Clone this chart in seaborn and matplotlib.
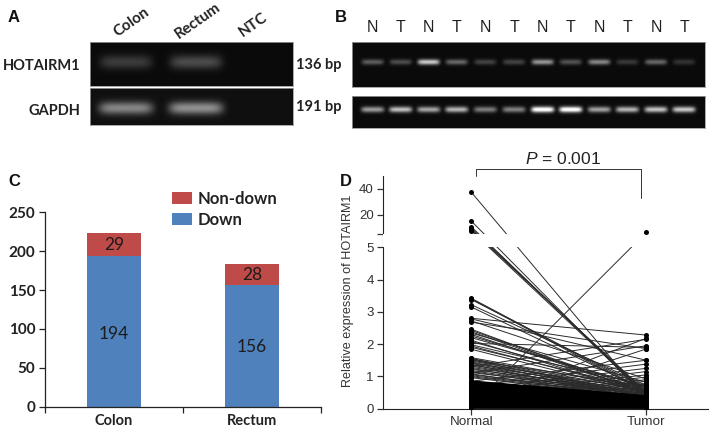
import numpy as np
import pandas as pd
import matplotlib
matplotlib.use('Agg')
import matplotlib.pyplot as plt
from matplotlib.lines import Line2D
from matplotlib.ticker import NullLocator
import seaborn as sns

W, H = 709, 428

# panel A gel
a_samples = ['Colon', 'Rectum', 'NTC']
a_hotairm1 = [0.19, 0.25, 0.0]
a_gapdh = [0.46, 0.50, 0.0]

# panel B gel
b_lanes = ['N', 'T', 'N', 'T', 'N', 'T', 'N', 'T', 'N', 'T', 'N', 'T']
b_hotairm1 = [0.32, 0.26, 0.74, 0.36, 0.22, 0.22, 0.54, 0.28, 0.48, 0.18, 0.36, 0.16]
b_gapdh = [0.56, 0.70, 0.60, 0.66, 0.44, 0.46, 1.0, 1.0, 0.58, 0.66, 0.72, 0.74]

# panel C counts
c_sites = ['Colon', 'Rectum']
c_down = [194, 156]
c_nondown = [29, 28]

# panel D paired samples
d_high_normal = [37.5, 15.2, 10.8, 9.8, 9.0, 8.4, 7.6, 0.05]
d_high_tumor = [0.27, 0.35, 0.42, 0.46, 0.50, 0.52, 0.44, 6.4]
d_mid_normal = [3.42, 3.40, 3.38, 3.22, 3.15, 2.80, 2.78, 2.72, 2.68, 2.46, 2.42, 2.38, 2.34, 2.30, 2.25,
                2.20, 2.12, 2.08, 2.02, 1.98, 1.94, 1.90, 1.84, 1.58, 1.56, 1.54, 1.52, 1.50, 1.48, 1.45,
                1.42, 1.40, 1.37, 1.35, 1.32, 1.28, 1.25, 1.22, 1.18, 1.15, 1.12, 1.08, 1.05, 1.02, 0.99, 0.96]
d_mid_tumor = [0.55, 0.50, 0.62, 0.72, 0.56, 2.28, 1.50, 0.92, 1.86, 0.46, 0.56, 0.50, 0.82, 0.52, 0.66,
               0.70, 0.46, 0.60, 1.90, 0.72, 0.52, 0.60, 0.48, 0.62, 0.40, 0.55, 0.36, 0.70, 0.48, 0.34,
               0.58, 0.44, 0.30, 0.52, 0.38, 0.46, 0.33, 0.50, 0.42, 0.35, 0.47, 0.31, 0.44, 0.39, 0.36, 0.33]
d_up_normal = [1.30, 1.10, 0.85, 0.70, 0.60, 0.50, 0.42, 0.35, 0.30, 0.25, 0.20, 0.15, 0.12, 0.08]
d_up_tumor = [2.15, 1.95, 1.50, 1.38, 1.25, 1.15, 1.05, 0.98, 0.90, 0.85, 0.78, 0.70, 2.18, 1.85]
d_low_normal = [0.02, 0.05, 0.08, 0.11, 0.14, 0.17, 0.20, 0.23, 0.26, 0.29, 0.32, 0.35, 0.38, 0.41, 0.44, 0.47,
                0.50, 0.53, 0.56, 0.59, 0.62, 0.65, 0.68, 0.71, 0.74, 0.77, 0.80, 0.83, 0.85]
d_low_tumor = [0.02, 0.03, 0.05, 0.06, 0.08, 0.09, 0.11, 0.12, 0.14, 0.15, 0.17, 0.18, 0.20, 0.21, 0.23, 0.24,
               0.26, 0.27, 0.29, 0.30, 0.31, 0.32, 0.33, 0.34, 0.35, 0.36, 0.37, 0.38, 0.39]

sns.set_style('white')
plt.rcParams['font.family'] = ['Lato', 'DejaVu Sans']
plt.rcParams['mathtext.fontset'] = 'custom'
plt.rcParams['mathtext.it'] = 'Liberation Sans:italic'
plt.rcParams['mathtext.rm'] = 'Liberation Sans'
fig = plt.figure(figsize=(W / 100, H / 100), dpi=100)


def px_axes(x0, y0, x1, y1):
    return fig.add_axes([x0 / W, 1 - y1 / H, (x1 - x0) / W, (y1 - y0) / H])


def fig_text(x, y, s, **kw):
    kw.setdefault('ha', 'center')
    kw.setdefault('va', 'center')
    fig.text(x / W, 1 - y / H, s, **kw)


def draw_gel(box, centers, levels, band_y, half_w, band_h, bg=0.04):
    # centers and band_y in pixels relative to the gel box
    x0, y0, x1, y1 = box
    xx, yy = np.meshgrid(np.arange(x1 - x0) + 0.5, np.arange(y1 - y0) + 0.5)
    gel = np.full(xx.shape, bg)
    for c, lev in zip(centers, levels):
        gel += lev * np.exp(-((xx - c) / half_w) ** 6) * np.exp(-((yy - band_y) / band_h) ** 2)
    ax = px_axes(x0, y0, x1, y1)
    sns.heatmap(gel, ax=ax, cmap='gray', vmin=0, vmax=1, cbar=False, xticklabels=False, yticklabels=False)
    for s in ax.spines.values():
        s.set_visible(True)
        s.set_color('#9a9a9a')
        s.set_linewidth(0.6)
    return ax


# ---- A ----
a_centers = [36, 106, 170]
draw_gel((90, 42, 293, 86), a_centers, a_hotairm1, 20, 26, 7)
draw_gel((90, 88, 293, 125), a_centers, a_gapdh, 20, 27, 6.5, bg=0.06)
for s, x, y in zip(a_samples, [132, 198, 253], [22, 21, 25]):
    fig_text(x, y, s, rotation=35, fontsize=11, fontweight='bold', color='#222222')
fig_text(80, 66, 'HOTAIRM1', ha='right', fontsize=10.5, fontweight='bold', color='#222222')
fig_text(80, 111, 'GAPDH', ha='right', fontsize=10.5, fontweight='bold', color='#222222')
fig_text(296, 65, '136 bp', ha='left', fontsize=10.5, fontweight='bold', color='#222222')
fig_text(296, 107, '191 bp', ha='left', fontsize=10.5, fontweight='bold', color='#222222')

# ---- B ----
b_x = [372.7, 400.7, 428.7, 456.7, 485.3, 514, 542.7, 570.7, 599.3, 627.3, 656, 684]
b_centers = [x - 352 for x in b_x]
draw_gel((352, 42, 705, 87), b_centers, b_hotairm1, 20, 11, 2.8)
draw_gel((352, 96, 705, 128), b_centers, b_gapdh, 13.5, 11.5, 3.0)
for s, x in zip(b_lanes, b_x):
    fig_text(x, 27, s, fontsize=11.5, family='Liberation Sans', color='#222222')

# ---- C ----
ax = px_axes(45, 212.3, 321, 406.7)
totals = [d + n for d, n in zip(c_down, c_nondown)]
sns.barplot(x=c_sites, y=totals, color='#be4b48', saturation=1, width=0.39, linewidth=0, ax=ax, label='Non-down')
sns.barplot(x=c_sites, y=c_down, color='#4f81bd', saturation=1, width=0.39, linewidth=0, ax=ax, label='Down')
ax.set_xlim(-0.5, 1.5)
ax.set_ylim(0, 250)
ax.set_yticks(range(0, 251, 50))
ax.set_xticks([0, 1])
ax.set_xticklabels(c_sites, fontsize=10.5, fontweight='bold')
ax.set_xticks([-0.5, 0.5, 1.5], minor=True)
ax.tick_params(axis='x', which='major', length=0, pad=5, colors='#222222')
ax.tick_params(axis='x', which='minor', length=4, width=0.9, bottom=True, color='#222222')
ax.tick_params(axis='y', length=4, width=0.9, left=True, pad=3, colors='#222222')
for t in ax.get_yticklabels():
    t.set_fontsize(11)
    t.set_fontweight('bold')
sns.despine(ax=ax)
for s in ['left', 'bottom']:
    ax.spines[s].set_color('#222222')
    ax.spines[s].set_linewidth(0.9)
for i in range(2):
    ax.text(i, c_down[i] / 2 - (3 - i * 2), str(c_down[i]), ha='center', va='center', fontsize=12.5, color='#1c1c1c')
    ax.text(i, c_down[i] + c_nondown[i] / 2 - 1, str(c_nondown[i]), ha='center', va='center', fontsize=12.5, color='#1c1c1c')
ax.legend(loc='upper left', bbox_to_anchor=(0.46, 1.11), frameon=False, handlelength=1.2, handleheight=0.75,
          handletextpad=0.35, labelspacing=0.3, borderpad=0, borderaxespad=0,
          prop={'size': 12, 'weight': 'bold'}, labelcolor='#222222')

# ---- D ----
ax = px_axes(383.3, 176, 708, 408.7)
normal = d_high_normal + d_mid_normal + d_up_normal
tumor = d_high_tumor + d_mid_tumor + d_up_tumor
pairs = pd.DataFrame({'pair': np.arange(len(normal)), 'Normal': normal, 'Tumor': tumor})
long = pairs.melt(id_vars='pair', var_name='group', value_name='value')
long['x'] = long['group'].map({'Normal': 0, 'Tumor': 1})
low = pd.DataFrame({'pair': np.arange(len(d_low_normal)), 'Normal': d_low_normal, 'Tumor': d_low_tumor})
low = low.melt(id_vars='pair', var_name='group', value_name='value')
low['x'] = low['group'].map({'Normal': 0, 'Tumor': 1})


# broken y axis: 0-5 and 5-50 have different px/unit with a 13 px gap
def broken(v):
    v = np.asarray(v, dtype=float)
    return np.where(v <= 5, v * 32.28, 161.4 + 13 + (v - 5) * 1.294)


def unbroken(p):
    p = np.asarray(p, dtype=float)
    return np.where(p <= 161.4, p / 32.28, np.where(p < 174.4, 5.0, 5 + (p - 174.4) / 1.294))


sns.lineplot(data=long, x='x', y='value', units='pair', estimator=None, color='#2a2a2a', linewidth=0.7,
             ax=ax, legend=False)
sns.lineplot(data=low, x='x', y='value', units='pair', estimator=None, color='black', linewidth=1.3,
             ax=ax, legend=False)
sns.scatterplot(data=long, x='x', y='value', color='black', s=13, linewidth=0, ax=ax, legend=False, zorder=4)
sns.scatterplot(data=low, x='x', y='value', color='black', s=13, linewidth=0, ax=ax, legend=False, zorder=4)
ax.set_yscale('function', functions=(broken, unbroken))
ax.set_xlim(-0.503, 1.353)
ax.set_ylim(0, 50)
ax.axhspan(5.0, 5.0001, color='white', zorder=3, lw=0, clip_on=False)
ax.set_yticks([0, 1, 2, 3, 4, 5, 5.0001, 20, 40])
ax.set_yticklabels(['0', '1', '2', '3', '4', '5', '', '20', '40'], fontsize=9.5, family='Liberation Sans')
ax.yaxis.set_minor_locator(NullLocator())
ax.set_xticks([0, 1])
ax.set_xticklabels(['Normal', 'Tumor'], fontsize=9.7, family='Liberation Sans')
ax.tick_params(axis='both', length=4, width=0.9, left=True, bottom=True, colors='#333333', pad=3)
ax.tick_params(axis='x', pad=1.5)
ax.set_xlabel('')
ax.set_ylabel('Relative expression of HOTAIRM1', fontsize=9.1, family='Liberation Sans', color='#333333')
ax.yaxis.set_label_coords(-0.09, 0.505)
sns.despine(ax=ax)
ax.spines['left'].set_color('#222222')
ax.spines['bottom'].set_color('#222222')
ax.spines['left'].set_zorder(2)

bx = [475.7 / W, 475.7 / W, 640.7 / W, 640.7 / W]
by = [1 - 176 / H, 1 - 169.3 / H, 1 - 169.3 / H, 1 - 198 / H]
fig.add_artist(Line2D(bx, by, color='#333333', lw=0.7))
fig_text(563, 159, r'$\mathit{P}$ = 0.001', fontsize=12.5, family='Liberation Sans', color='#222222')

# panel letters
for s, x, y in zip('ABCD', [14, 341, 14, 346], [18, 18, 181, 181]):
    fig_text(x, y, s, fontsize=12, fontweight='bold', family='Liberation Sans', color='#111111')

fig.savefig('out.png', dpi=100)
